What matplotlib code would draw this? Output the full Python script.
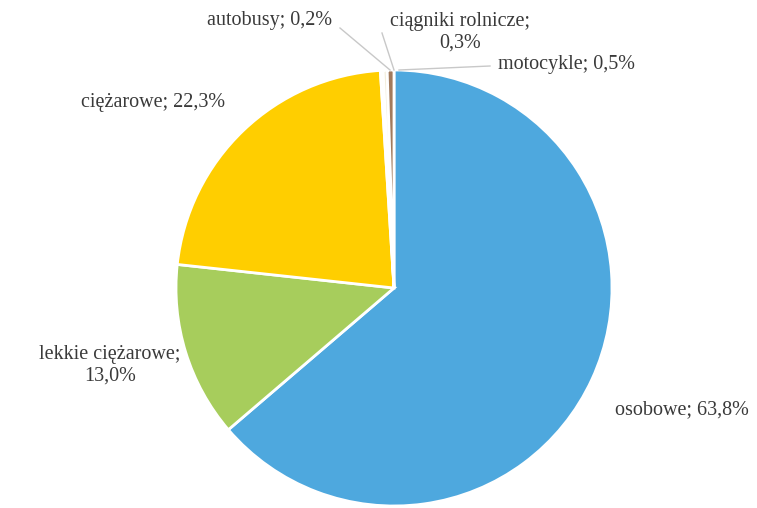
import matplotlib.pyplot as plt

# struktura pojazdów wg rodzaju (%)
categories = ["osobowe", "lekkie ciężarowe", "ciężarowe", "autobusy",
              "ciągniki rolnicze", "motocykle"]
shares = [63.8, 13.0, 22.3, 0.2, 0.3, 0.5]
colors = ["#4EA8DE", "#A7CD5C", "#FFCE00", "#E6E6E6", "#F3EEDC", "#A27A5C"]

W, H = 757, 508
fig = plt.figure(figsize=(W / 100, H / 100), dpi=100)
ax = fig.add_axes([0, 0, 1, 1])

ax.pie(shares, colors=colors, startangle=90, counterclock=False,
       center=(394, H - 288), radius=218, frame=True,
       wedgeprops=dict(edgecolor="white", linewidth=2))
ax.set_xlim(0, W)
ax.set_ylim(0, H)
ax.set_aspect("equal")
ax.axis("off")

def fmt(v):
    return f"{v:.1f}".replace(".", ",") + "%"

txt = dict(fontfamily="Liberation Serif", fontsize=14.5, color="#3a3a3a",
           ha="center", va="center")

# etykiety: (tekst, x, y od góry)
labels = [
    (f"{categories[0]}; {fmt(shares[0])}", 682, 410),
    (f"{categories[1]};\n{fmt(shares[1])}", 110, 365),
    (f"{categories[2]}; {fmt(shares[2])}", 153, 103),
    (f"{categories[3]}; {fmt(shares[3])}", 270, 20),
    (f"{categories[4]};\n{fmt(shares[4])}", 460, 32),
    (f"{categories[5]}; {fmt(shares[5])}", 566, 64),
]
for s, x, y in labels:
    ax.text(x, H - y, s, linespacing=1.15, **txt)

# linie odniesienia dla małych wycinków
leaders = [((340, 28), (390, 70)), ((382, 33), (394, 70)), ((490, 66), (399, 70))]
for (x0, y0), (x1, y1) in leaders:
    ax.plot([x0, x1], [H - y0, H - y1], color="#C8C8C8", linewidth=1)

fig.savefig("out.png", dpi=100)
